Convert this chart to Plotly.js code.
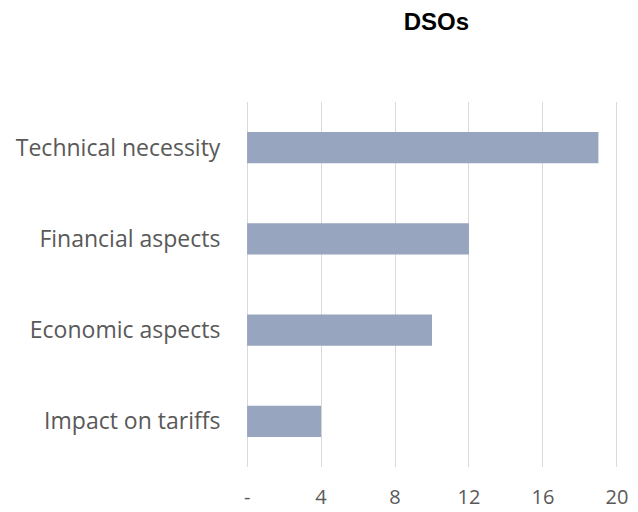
<!DOCTYPE html>
<html>
<head>
<meta charset="utf-8">
<script src="https://cdn.plot.ly/plotly-3.0.1.min.js"></script>
<style>html,body{margin:0;padding:0;background:#fff;}#chart{width:638px;height:512px;}</style>
</head>
<body>
<div id="chart"></div>
<script>
const categories = ["Technical necessity", "Financial aspects", "Economic aspects", "Impact on tariffs"];
const values = [19, 12, 10, 4];
const tickVals = [0, 4, 8, 12, 16, 20];
const tickText = ["-", "4", "8", "12", "16", "20"];

const trace = {
  type: "bar",
  orientation: "h",
  y: categories,
  x: values,
  width: 0.34,
  marker: {color: "#97a6be"},
  hoverinfo: "x+y"
};

const layout = {
  width: 638,
  height: 512,
  margin: {l: 246, r: 20, t: 102, b: 45},
  paper_bgcolor: "#ffffff",
  plot_bgcolor: "#ffffff",
  showlegend: false,
  title: {
    text: "<b>DSOs</b>",
    font: {family: "Liberation Sans, Arial, sans-serif", size: 24, color: "#000000"},
    x: 0.684, xref: "container", xanchor: "center",
    y: 0.958, yref: "container", yanchor: "middle"
  },
  xaxis: {
    range: [-0.06, 20.06],
    tickvals: tickVals,
    ticktext: tickText,
    showgrid: true,
    gridcolor: "#d9d9d9",
    gridwidth: 1,
    zeroline: false,
    showline: false,
    ticks: "outside",
    ticklen: 12,
    tickcolor: "rgba(0,0,0,0)",
    tickfont: {family: "Open Sans, sans-serif", size: 20, color: "#595959"},
    fixedrange: true
  },
  yaxis: {
    autorange: "reversed",
    range: [3.5, -0.5],
    showgrid: false,
    zeroline: false,
    showline: false,
    ticks: "outside",
    ticklen: 20,
    tickcolor: "rgba(0,0,0,0)",
    tickfont: {family: "Open Sans, sans-serif", size: 23, color: "#595959"},
    fixedrange: true
  }
};

Plotly.newPlot("chart", [trace], layout, {displayModeBar: false, staticPlot: true});
</script>
</body>
</html>
